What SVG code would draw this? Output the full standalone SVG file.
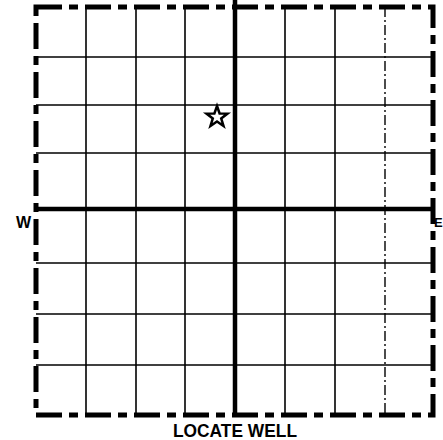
<svg xmlns="http://www.w3.org/2000/svg" width="443" height="440" viewBox="0 0 443 440">
<style>
.thin{stroke:#000;stroke-width:1.6;fill:none}
.dd{stroke:#000;stroke-width:1.4;fill:none;stroke-dasharray:10 3 2 3}
.axis{stroke:#000;stroke-width:4.5;fill:none}
.border{stroke:#000;stroke-width:5;fill:none;stroke-dasharray:26 7 9 7}
.lbl{font-family:"Liberation Sans",Arial,sans-serif;font-weight:bold;fill:#000}
</style>
<rect width="443" height="440" fill="#fff"/>
<g id="grid">
<line class="thin" x1="86" y1="7" x2="86" y2="414"/>
<line class="thin" x1="136" y1="7" x2="136" y2="414"/>
<line class="thin" x1="185" y1="7" x2="185" y2="414"/>
<line class="thin" x1="285" y1="7" x2="285" y2="414"/>
<line class="thin" x1="335" y1="7" x2="335" y2="414"/>
<line class="dd" x1="385" y1="7" x2="385" y2="414"/>
<line class="thin" x1="36" y1="57" x2="433" y2="57"/>
<line class="thin" x1="36" y1="105" x2="433" y2="105"/>
<line class="thin" x1="36" y1="153" x2="433" y2="153"/>
<line class="thin" x1="36" y1="263" x2="433" y2="263"/>
<line class="thin" x1="36" y1="314" x2="433" y2="314"/>
<line class="thin" x1="36" y1="365" x2="433" y2="365"/>
</g>
<g id="axes">
<line class="axis" x1="235" y1="0" x2="235" y2="416"/>
<line class="axis" x1="36" y1="209" x2="433" y2="209"/>
</g>
<g id="border">
<rect class="border" x="36" y="7" width="397" height="408"/>
</g>
<g id="well">
<polygon points="217,106 219.6,113.4 227.5,113.6 221.2,118.4 223.5,126 217,121.5 210.5,126 212.8,118.4 206.5,113.6 214.4,113.4" fill="none" stroke="#000" stroke-width="2.5" stroke-linejoin="miter"/>
</g>
<g id="labels">
<text class="lbl" x="16" y="228" font-size="16">W</text>
<text class="lbl" x="434" y="227" font-size="13">E</text>
<text class="lbl" x="235" y="437" font-size="18" text-anchor="middle" textLength="124" lengthAdjust="spacingAndGlyphs">LOCATE WELL</text>
</g>
</svg>
